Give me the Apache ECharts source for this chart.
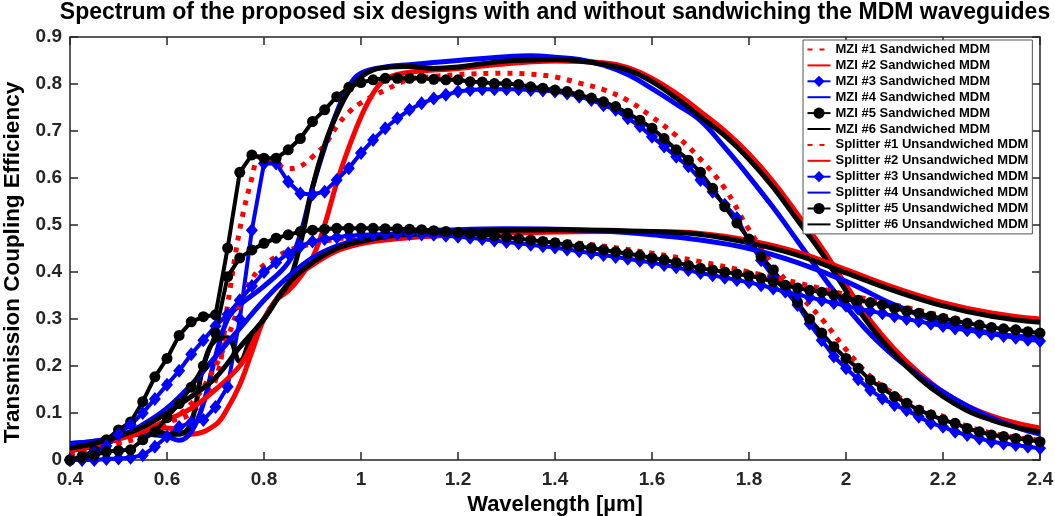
<!DOCTYPE html>
<html><head><meta charset="utf-8">
<script src="https://cdn.jsdelivr.net/npm/echarts@6.0.0/dist/echarts.min.js"></script>
<style>html,body{margin:0;padding:0;background:#fff}#c{width:1055px;height:516px}</style>
</head><body><div id="c"></div>
<script>
// ---------------- data ----------------
const TITLE = 'Spectrum of the proposed six designs with and without sandwiching the MDM waveguides';
const X_NAME = 'Wavelength [\u00b5m]';
const Y_NAME = 'Transmission Coupling Efficiency';
const NAMES = ['MZI #1 Sandwiched MDM','MZI #2 Sandwiched MDM','MZI #3 Sandwiched MDM','MZI #4 Sandwiched MDM','MZI #5 Sandwiched MDM','MZI #6 Sandwiched MDM',
  'Splitter #1 Unsandwiched MDM','Splitter #2 Unsandwiched MDM','Splitter #3 Unsandwiched MDM','Splitter #4 Unsandwiched MDM','Splitter #5 Unsandwiched MDM','Splitter #6 Unsandwiched MDM'];

// wavelength grid of the marker series (µm)
const WL = [0.4,0.425,0.45,0.475,0.5,0.525,0.55,0.575,0.6,0.625,0.65,0.675,0.7,0.725,0.75,0.775,0.8,0.825,0.85,0.875,0.9,0.925,0.95,0.975,1.0,
  1.025,1.05,1.075,1.1,1.125,1.15,1.175,1.2,1.225,1.25,1.275,1.3,1.325,1.35,1.375,1.4,1.425,1.45,1.475,1.5,
  1.525,1.55,1.575,1.6,1.625,1.65,1.675,1.7,1.725,1.75,1.775,1.8,1.825,1.85,1.875,1.9,1.925,1.95,1.975,2.0,
  2.025,2.05,2.075,2.1,2.125,2.15,2.175,2.2,2.225,2.25,2.275,2.3,2.325,2.35,2.375,2.4];

// MZI #3 (blue diamonds, sandwiched)
const mzi3 = [0.0,0.0,0.0,0.002,0.003,0.005,0.01,0.028,0.05,0.07,0.08,0.085,0.113,0.156,0.3,0.489,0.631,0.631,0.592,0.567,0.565,0.571,0.596,0.621,0.653,
  0.681,0.706,0.727,0.745,0.759,0.769,0.777,0.784,0.787,0.789,0.789,0.789,0.789,0.787,0.786,0.784,0.78,0.773,0.766,0.755,
  0.745,0.727,0.71,0.688,0.667,0.645,0.625,0.596,0.571,0.543,0.515,0.465,0.425,0.39,0.36,0.33,0.29,0.255,0.22,0.195,
  0.172,0.149,0.131,0.117,0.106,0.092,0.078,0.071,0.06,0.053,0.046,0.039,0.035,0.032,0.028,0.025];
// MZI #5 (black circles, sandwiched)
const mzi5 = [0.0,0.008,0.02,0.043,0.064,0.081,0.124,0.177,0.216,0.265,0.294,0.305,0.309,0.451,0.612,0.649,0.642,0.642,0.66,0.684,0.72,0.745,0.773,0.793,0.803,
  0.809,0.812,0.812,0.812,0.812,0.81,0.809,0.809,0.805,0.804,0.801,0.801,0.799,0.794,0.791,0.787,0.784,0.777,0.77,0.762,
  0.752,0.738,0.723,0.706,0.684,0.66,0.638,0.612,0.578,0.539,0.504,0.47,0.433,0.404,0.37,0.336,0.3,0.27,0.241,0.216,
  0.195,0.17,0.153,0.135,0.121,0.106,0.096,0.085,0.078,0.067,0.06,0.053,0.05,0.046,0.043,0.039];
// Splitter #3 (blue diamonds, unsandwiched)
const spl3 = [0.0,0.003,0.015,0.03,0.055,0.075,0.1,0.13,0.16,0.19,0.225,0.255,0.285,0.31,0.34,0.37,0.4,0.42,0.44,0.455,0.465,0.47,0.474,0.477,0.479,
  0.48,0.481,0.481,0.481,0.48,0.479,0.477,0.475,0.473,0.47,0.467,0.464,0.461,0.458,0.455,0.452,0.448,0.444,0.44,0.436,
  0.432,0.428,0.424,0.42,0.415,0.41,0.404,0.398,0.393,0.388,0.383,0.378,0.372,0.365,0.358,0.352,0.346,0.34,0.334,0.328,
  0.322,0.317,0.312,0.306,0.3,0.295,0.29,0.285,0.28,0.276,0.272,0.268,0.264,0.26,0.256,0.253];
// Splitter #5 (black circles, unsandwiched)
const spl5 = [0.0,0.005,0.01,0.018,0.02,0.022,0.043,0.06,0.09,0.12,0.155,0.2,0.27,0.39,0.43,0.447,0.461,0.472,0.479,0.486,0.489,0.491,0.493,0.493,0.493,
  0.493,0.492,0.492,0.491,0.49,0.488,0.486,0.484,0.482,0.479,0.477,0.474,0.471,0.468,0.465,0.462,0.458,0.454,0.451,0.447,
  0.443,0.439,0.435,0.43,0.426,0.42,0.414,0.408,0.404,0.4,0.396,0.392,0.387,0.379,0.372,0.366,0.361,0.357,0.351,0.345,
  0.34,0.335,0.33,0.323,0.317,0.312,0.306,0.301,0.296,0.291,0.287,0.282,0.279,0.277,0.273,0.27];

// MZI #1 (red dotted)
const mzi1_wl = [0.4,0.45,0.5,0.55,0.6,0.65,0.7,0.725,0.75,0.775,0.79,0.8,0.825,0.85,0.875,0.9,0.925,0.95,0.975,1.0,1.05,1.1,1.15,1.2,1.3,1.35,1.4,1.45,1.5,1.55,1.6,1.65,1.7,1.75,1.8,1.85,1.9,1.95,2.0,2.05,2.1,2.15,2.2,2.25,2.3,2.35,2.4];
const mzi1 = [0.01,0.02,0.04,0.06,0.08,0.1,0.17,0.33,0.49,0.6,0.645,0.64,0.63,0.62,0.625,0.645,0.67,0.71,0.74,0.76,0.787,0.81,0.816,0.82,0.823,0.821,0.815,0.802,0.788,0.765,0.73,0.69,0.64,0.578,0.49,0.415,0.355,0.3,0.235,0.178,0.14,0.113,0.093,0.072,0.057,0.048,0.042];
// MZI #2 (red solid)
const mzi2_wl = [0.4,0.45,0.5,0.55,0.6,0.65,0.7,0.725,0.75,0.775,0.8,0.825,0.85,0.875,0.9,0.925,0.95,0.975,1.0,1.025,1.05,1.1,1.2,1.3,1.4,1.5,1.55,1.6,1.65,1.7,1.75,1.8,1.85,1.9,1.95,2.0,2.05,2.1,2.15,2.2,2.25,2.3,2.35,2.4];
const mzi2 = [0.02,0.03,0.045,0.06,0.068,0.055,0.075,0.11,0.16,0.23,0.30,0.34,0.36,0.39,0.43,0.50,0.59,0.665,0.73,0.78,0.81,0.825,0.833,0.843,0.849,0.845,0.835,0.812,0.78,0.741,0.70,0.651,0.592,0.523,0.452,0.372,0.297,0.236,0.186,0.145,0.115,0.094,0.079,0.068];
// MZI #4 (blue solid)
const mzi4_wl = [0.4,0.45,0.5,0.55,0.6,0.625,0.65,0.675,0.7,0.725,0.75,0.8,0.85,0.875,0.9,0.925,0.95,0.975,1.0,1.05,1.1,1.2,1.3,1.35,1.4,1.45,1.5,1.55,1.6,1.65,1.7,1.75,1.8,1.85,1.9,1.95,2.0,2.05,2.1,2.15,2.2,2.25,2.3,2.35,2.4];
const mzi4 = [0.035,0.04,0.05,0.055,0.05,0.042,0.06,0.12,0.22,0.30,0.33,0.37,0.42,0.48,0.58,0.665,0.74,0.795,0.823,0.836,0.841,0.85,0.858,0.86,0.857,0.852,0.84,0.82,0.79,0.757,0.722,0.665,0.603,0.537,0.466,0.394,0.327,0.268,0.22,0.18,0.145,0.115,0.09,0.07,0.055];
// MZI #6 (black solid)
const mzi6_wl = [0.4,0.45,0.5,0.55,0.575,0.6,0.625,0.65,0.675,0.7,0.725,0.75,0.775,0.8,0.825,0.85,0.875,0.9,0.925,0.95,0.975,1.0,1.025,1.05,1.1,1.15,1.2,1.25,1.3,1.35,1.4,1.45,1.5,1.55,1.6,1.65,1.7,1.75,1.8,1.85,1.9,1.95,2.0,2.05,2.1,2.15,2.2,2.25,2.3,2.35,2.4];
const mzi6 = [0.02,0.03,0.045,0.06,0.064,0.055,0.055,0.08,0.2,0.255,0.26,0.21,0.265,0.3,0.34,0.375,0.46,0.58,0.67,0.735,0.785,0.815,0.83,0.835,0.837,0.833,0.836,0.843,0.849,0.851,0.852,0.849,0.842,0.83,0.805,0.77,0.73,0.69,0.64,0.58,0.51,0.44,0.36,0.285,0.225,0.175,0.135,0.105,0.085,0.07,0.06];
// Splitter #1 (red dotted)
const spl1_wl = [0.4,0.45,0.5,0.55,0.6,0.65,0.7,0.725,0.75,0.775,0.8,0.85,0.9,0.95,1.0,1.1,1.2,1.3,1.4,1.5,1.6,1.7,1.8,1.9,2.0,2.1,2.2,2.3,2.4];
const spl1 = [0.01,0.02,0.035,0.05,0.08,0.12,0.2,0.26,0.33,0.385,0.415,0.445,0.46,0.47,0.476,0.48,0.48,0.476,0.467,0.455,0.44,0.422,0.4,0.377,0.352,0.33,0.307,0.287,0.272];
// Splitter #2 (red solid)
const spl2_wl = [0.4,0.45,0.5,0.55,0.6,0.65,0.7,0.75,0.775,0.8,0.85,0.9,0.95,1.0,1.05,1.1,1.2,1.3,1.4,1.5,1.6,1.7,1.8,1.9,2.0,2.1,2.2,2.3,2.4];
const spl2 = [0.02,0.03,0.045,0.06,0.085,0.11,0.15,0.2,0.245,0.3,0.375,0.415,0.445,0.46,0.468,0.473,0.479,0.483,0.485,0.486,0.486,0.482,0.467,0.442,0.405,0.367,0.335,0.313,0.3];
// Splitter #4 (blue solid)
const spl4_wl = [0.4,0.45,0.5,0.55,0.6,0.65,0.7,0.75,0.8,0.85,0.9,0.95,1.0,1.1,1.2,1.3,1.4,1.5,1.6,1.7,1.8,1.9,2.0,2.1,2.2,2.3,2.4];
const spl4 = [0.035,0.04,0.05,0.075,0.11,0.16,0.22,0.28,0.34,0.39,0.43,0.455,0.47,0.485,0.49,0.492,0.491,0.487,0.479,0.468,0.45,0.42,0.38,0.33,0.292,0.27,0.26];
// Splitter #6 (black solid)
const spl6_wl = [0.4,0.45,0.5,0.55,0.6,0.65,0.7,0.75,0.8,0.85,0.9,0.95,1.0,1.05,1.1,1.2,1.3,1.4,1.5,1.6,1.7,1.8,1.9,2.0,2.1,2.2,2.3,2.4];
const spl6 = [0.025,0.035,0.05,0.07,0.1,0.135,0.175,0.24,0.3,0.375,0.42,0.45,0.465,0.475,0.48,0.486,0.489,0.49,0.489,0.486,0.48,0.462,0.436,0.398,0.36,0.328,0.306,0.293];

// ---------------- chart ----------------
const FONT = "'Liberation Sans', Arial, sans-serif";
const RED = '#ff0000', BLUE = '#0000ff', BLACK = '#000000';
const pairs = (xs, ys) => xs.map((x, i) => [x, ys[i]]);

function lineS(name, xs, ys, color, dotted) {
  return {
    name, type: 'line', data: pairs(xs, ys), symbol: 'none', smooth: 0.4,
    lineStyle: { color, width: 5, type: dotted ? [5, 7] : 'solid', cap: 'butt', join: 'round' },
    itemStyle: { color }, emphasis: { disabled: true }, silent: true
  };
}
function markS(name, ys, color, symbol, size) {
  return {
    name, type: 'line', data: pairs(WL, ys), symbol, symbolSize: size, showAllSymbol: true,
    lineStyle: { color, width: 4, join: 'round' }, itemStyle: { color, borderWidth: 0 },
    emphasis: { disabled: true }, silent: true
  };
}

const series = [
  lineS(NAMES[0], mzi1_wl, mzi1, RED, true),
  lineS(NAMES[1], mzi2_wl, mzi2, RED, false),
  markS(NAMES[2], mzi3, BLUE, 'diamond', [12, 14]),
  lineS(NAMES[3], mzi4_wl, mzi4, BLUE, false),
  markS(NAMES[4], mzi5, BLACK, 'circle', 11),
  lineS(NAMES[5], mzi6_wl, mzi6, BLACK, false),
  lineS(NAMES[6], spl1_wl, spl1, RED, true),
  lineS(NAMES[7], spl2_wl, spl2, RED, false),
  markS(NAMES[8], spl3, BLUE, 'diamond', [12, 14]),
  lineS(NAMES[9], spl4_wl, spl4, BLUE, false),
  markS(NAMES[10], spl5, BLACK, 'circle', 11),
  lineS(NAMES[11], spl6_wl, spl6, BLACK, false)
];
const lineOnly = new Set([0, 1, 3, 5, 6, 7, 9, 11]);

const AX = '#262626';
const tickLabel = { color: AX, fontFamily: FONT, fontWeight: 'bold', fontSize: 19 };
const baseX = { type: 'value', min: 0.4, max: 2.4, interval: 0.2, splitLine: { show: false },
  axisLine: { show: true, onZero: false, lineStyle: { color: AX, width: 1.5 } },
  axisTick: { show: true, inside: true, length: 8, lineStyle: { color: AX, width: 1.5 } } };
const baseY = { type: 'value', min: 0, max: 0.9, interval: 0.1, splitLine: { show: false },
  axisLine: { show: true, onZero: false, lineStyle: { color: AX, width: 1.5 } },
  axisTick: { show: true, inside: true, length: 8, lineStyle: { color: AX, width: 1.5 } } };

const option = {
  animation: false,
  backgroundColor: '#fff',
  title: { text: TITLE, left: 555, top: 1, textAlign: 'center', padding: 0,
    textStyle: { fontFamily: FONT, fontWeight: 'bold', fontSize: 23, color: '#000' } },
  grid: { left: 70, right: 15, top: 37, bottom: 56, outerBoundsMode: 'none', containLabel: false },
  legend: {
    orient: 'vertical', left: 803, top: 40, padding: [3, 4, 3, 3.5],
    itemWidth: 23, itemHeight: 14, itemGap: 2.9,
    backgroundColor: '#fff', borderColor: '#555', borderWidth: 1,
    textStyle: { fontFamily: FONT, fontWeight: 'bold', fontSize: 13, color: '#000' },
    data: NAMES.map((n, i) => lineOnly.has(i) ? { name: n, itemStyle: { opacity: 0 } } : { name: n }),
    selectedMode: false
  },
  xAxis: [
    Object.assign({}, baseX, { position: 'bottom', name: X_NAME, nameLocation: 'middle', nameGap: 17,
      nameTextStyle: { fontFamily: FONT, fontWeight: 'bold', fontSize: 22, color: '#000' },
      axisLabel: Object.assign({ margin: 10, showMinLabel: true, showMaxLabel: true }, tickLabel) }),
    Object.assign({}, baseX, { position: 'top', axisLabel: { show: false } })
  ],
  yAxis: [
    Object.assign({}, baseY, { position: 'left', name: Y_NAME, nameLocation: 'middle', nameGap: 39, nameRotate: 90,
      nameTextStyle: { fontFamily: FONT, fontWeight: 'bold', fontSize: 22.5, color: '#000', padding: [0, 28, 0, 0] },
      axisLabel: Object.assign({ margin: 8, showMinLabel: true, showMaxLabel: true }, tickLabel) }),
    Object.assign({}, baseY, { position: 'right', axisLabel: { show: false } })
  ],
  series
};
const chart = echarts.init(document.getElementById('c'), null, { renderer: 'canvas' });
chart.setOption(option);
</script></body></html>
